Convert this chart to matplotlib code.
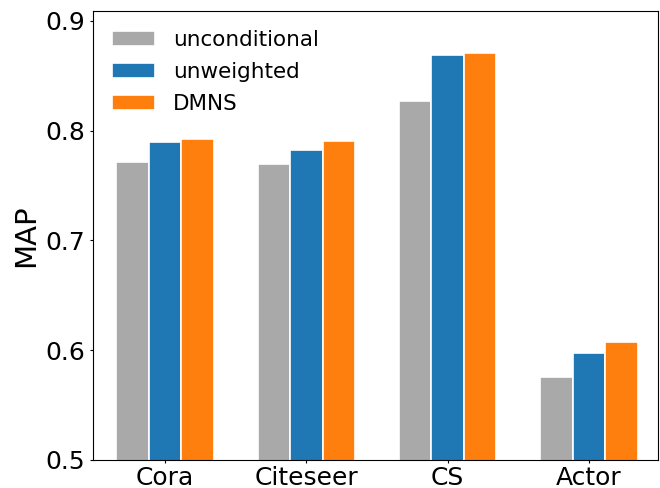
import numpy as np
import matplotlib
matplotlib.use('Agg')
import matplotlib.pyplot as plt

datasets = ['Cora', 'Citeseer', 'CS', 'Actor']
methods = ['unconditional', 'unweighted', 'DMNS']
unconditional = [0.7717, 0.7693, 0.8270, 0.5756]
unweighted = [0.7899, 0.7823, 0.8689, 0.5975]
dmns = [0.7926, 0.7905, 0.8707, 0.6075]
colors = ['darkgray', '#1f77b4', '#ff7f0e']

fig = plt.figure(figsize=(6.6, 4.88), dpi=100)
ax = fig.add_axes([0.141, 0.0574, 0.856, 0.9206])

x = np.arange(len(datasets))
w = 0.23
for i, (vals, lab) in enumerate(zip([unconditional, unweighted, dmns], methods)):
    ax.bar(x + (i - 1) * w, vals, width=w, color=colors[i], label=lab,
           edgecolor='white', linewidth=1.2)

ax.set_xlim(-0.51, 3.49)
ax.set_ylim(0.5, 0.9092)
ax.set_yticks([0.5, 0.6, 0.7, 0.8, 0.9])
ax.set_xticks(x)
ax.set_xticklabels(datasets)
ax.tick_params(labelsize=18, length=2.5, pad=3)
ax.tick_params(axis='x', pad=1.8)
ax.set_ylabel('MAP', fontsize=21, labelpad=4)
ax.legend(loc='upper left', frameon=False, fontsize=15.5, labelspacing=0.55)

fig.savefig('out.png', dpi=100)
